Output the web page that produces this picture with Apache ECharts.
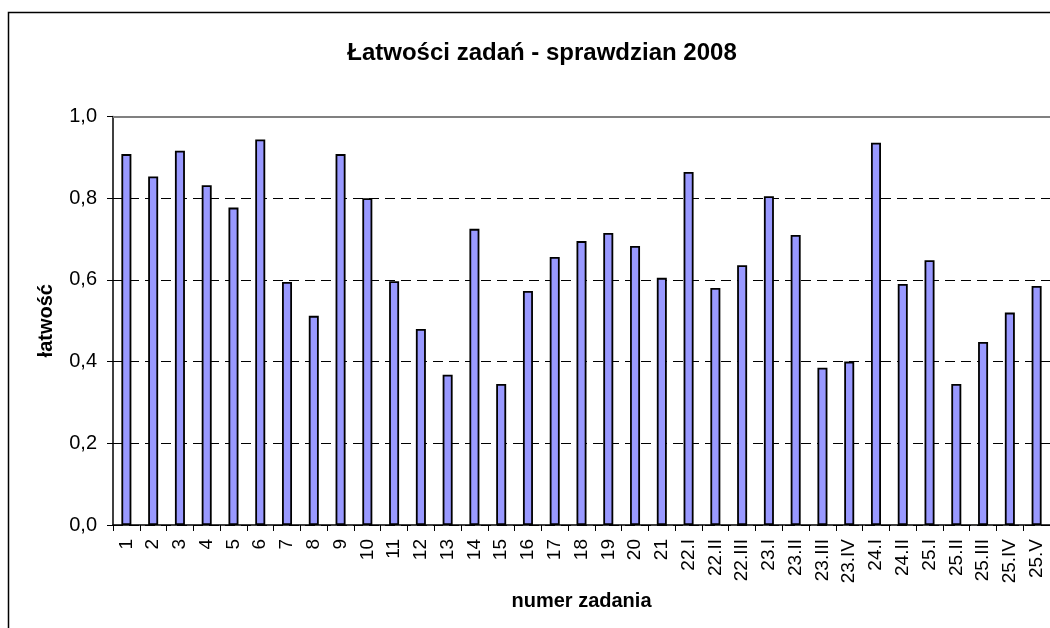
<!DOCTYPE html>
<html>
<head>
<meta charset="utf-8">
<script src="https://cdn.jsdelivr.net/npm/echarts@6/dist/echarts.min.js"></script>
<style>
  html, body { margin: 0; padding: 0; background: #fff; }
  #chart { width: 1050px; height: 628px; }
</style>
</head>
<body>
<div id="chart"></div>
<script>
// numery zadań
var zadania = ['1', '2', '3', '4', '5', '6', '7', '8', '9', '10', '11', '12', '13', '14', '15', '16',
  '17', '18', '19', '20', '21', '22.I', '22.II', '22.III', '23.I', '23.II', '23.III', '23.IV',
  '24.I', '24.II', '25.I', '25.II', '25.III', '25.IV', '25.V'];
// łatwość zadania
var latwosc = [0.908, 0.853, 0.916, 0.832, 0.777, 0.944, 0.595, 0.512, 0.908, 0.800, 0.597, 0.480,
  0.368, 0.725, 0.345, 0.573, 0.656, 0.695, 0.715, 0.683, 0.605, 0.864, 0.580, 0.636, 0.805,
  0.710, 0.385, 0.400, 0.936, 0.590, 0.648, 0.345, 0.448, 0.520, 0.585];
var yTicks = [0, 0.2, 0.4, 0.6, 0.8, 1.0];

var font = "'Liberation Sans', Arial, sans-serif";
var chart = echarts.init(document.getElementById('chart'));

chart.setOption({
  animation: false,
  backgroundColor: '#fff',
  graphic: [{
    type: 'rect',
    shape: { x: 8.5, y: 12.5, width: 1100, height: 700 },
    style: { fill: 'none', stroke: '#000', lineWidth: 1.5 },
    silent: true
  }],
  title: {
    text: 'Łatwości zadań - sprawdzian 2008',
    left: 537, textAlign: 'center', top: 36,
    textStyle: { fontFamily: font, fontSize: 24, fontWeight: 'bold', color: '#000' }
  },
  grid: { left: 113, right: 0, top: 116.5, bottom: 103 },
  xAxis: {
    type: 'category',
    data: zadania,
    name: 'numer zadania',
    nameLocation: 'middle',
    nameGap: 65,
    nameTextStyle: { fontFamily: font, fontSize: 20, fontWeight: 'bold', color: '#000' },
    axisLine: { lineStyle: { color: '#000', width: 1.5 } },
    axisTick: { show: true, length: 6, lineStyle: { color: '#000' } },
    axisLabel: { interval: 0, rotate: 90, margin: 14, fontFamily: font, fontSize: 19, color: '#000' }
  },
  yAxis: {
    type: 'value',
    min: 0, max: 1, interval: 0.2,
    name: 'łatwość',
    nameLocation: 'middle',
    nameGap: 57,
    nameTextStyle: { fontFamily: font, fontSize: 20, fontWeight: 'bold', color: '#000' },
    axisLine: { show: true, lineStyle: { color: '#000', width: 1.5 } },
    axisTick: { show: true, length: 6, lineStyle: { color: '#000' } },
    axisLabel: {
      margin: 16, fontFamily: font, fontSize: 20, color: '#000',
      formatter: function (v) { return v.toFixed(1).replace('.', ','); }
    },
    splitLine: { show: true, lineStyle: { color: '#000', type: [10, 6], width: 1 } }
  },
  series: [{
    type: 'bar',
    data: latwosc,
    barWidth: 10,
    itemStyle: { color: '#9999ff', borderColor: '#000', borderWidth: 1.8 },
    markLine: {
      silent: true, symbol: 'none', label: { show: false },
      lineStyle: { color: '#808080', type: 'solid', width: 2 },
      data: [{ yAxis: yTicks[yTicks.length - 1] }]
    }
  }]
});
</script>
</body>
</html>
